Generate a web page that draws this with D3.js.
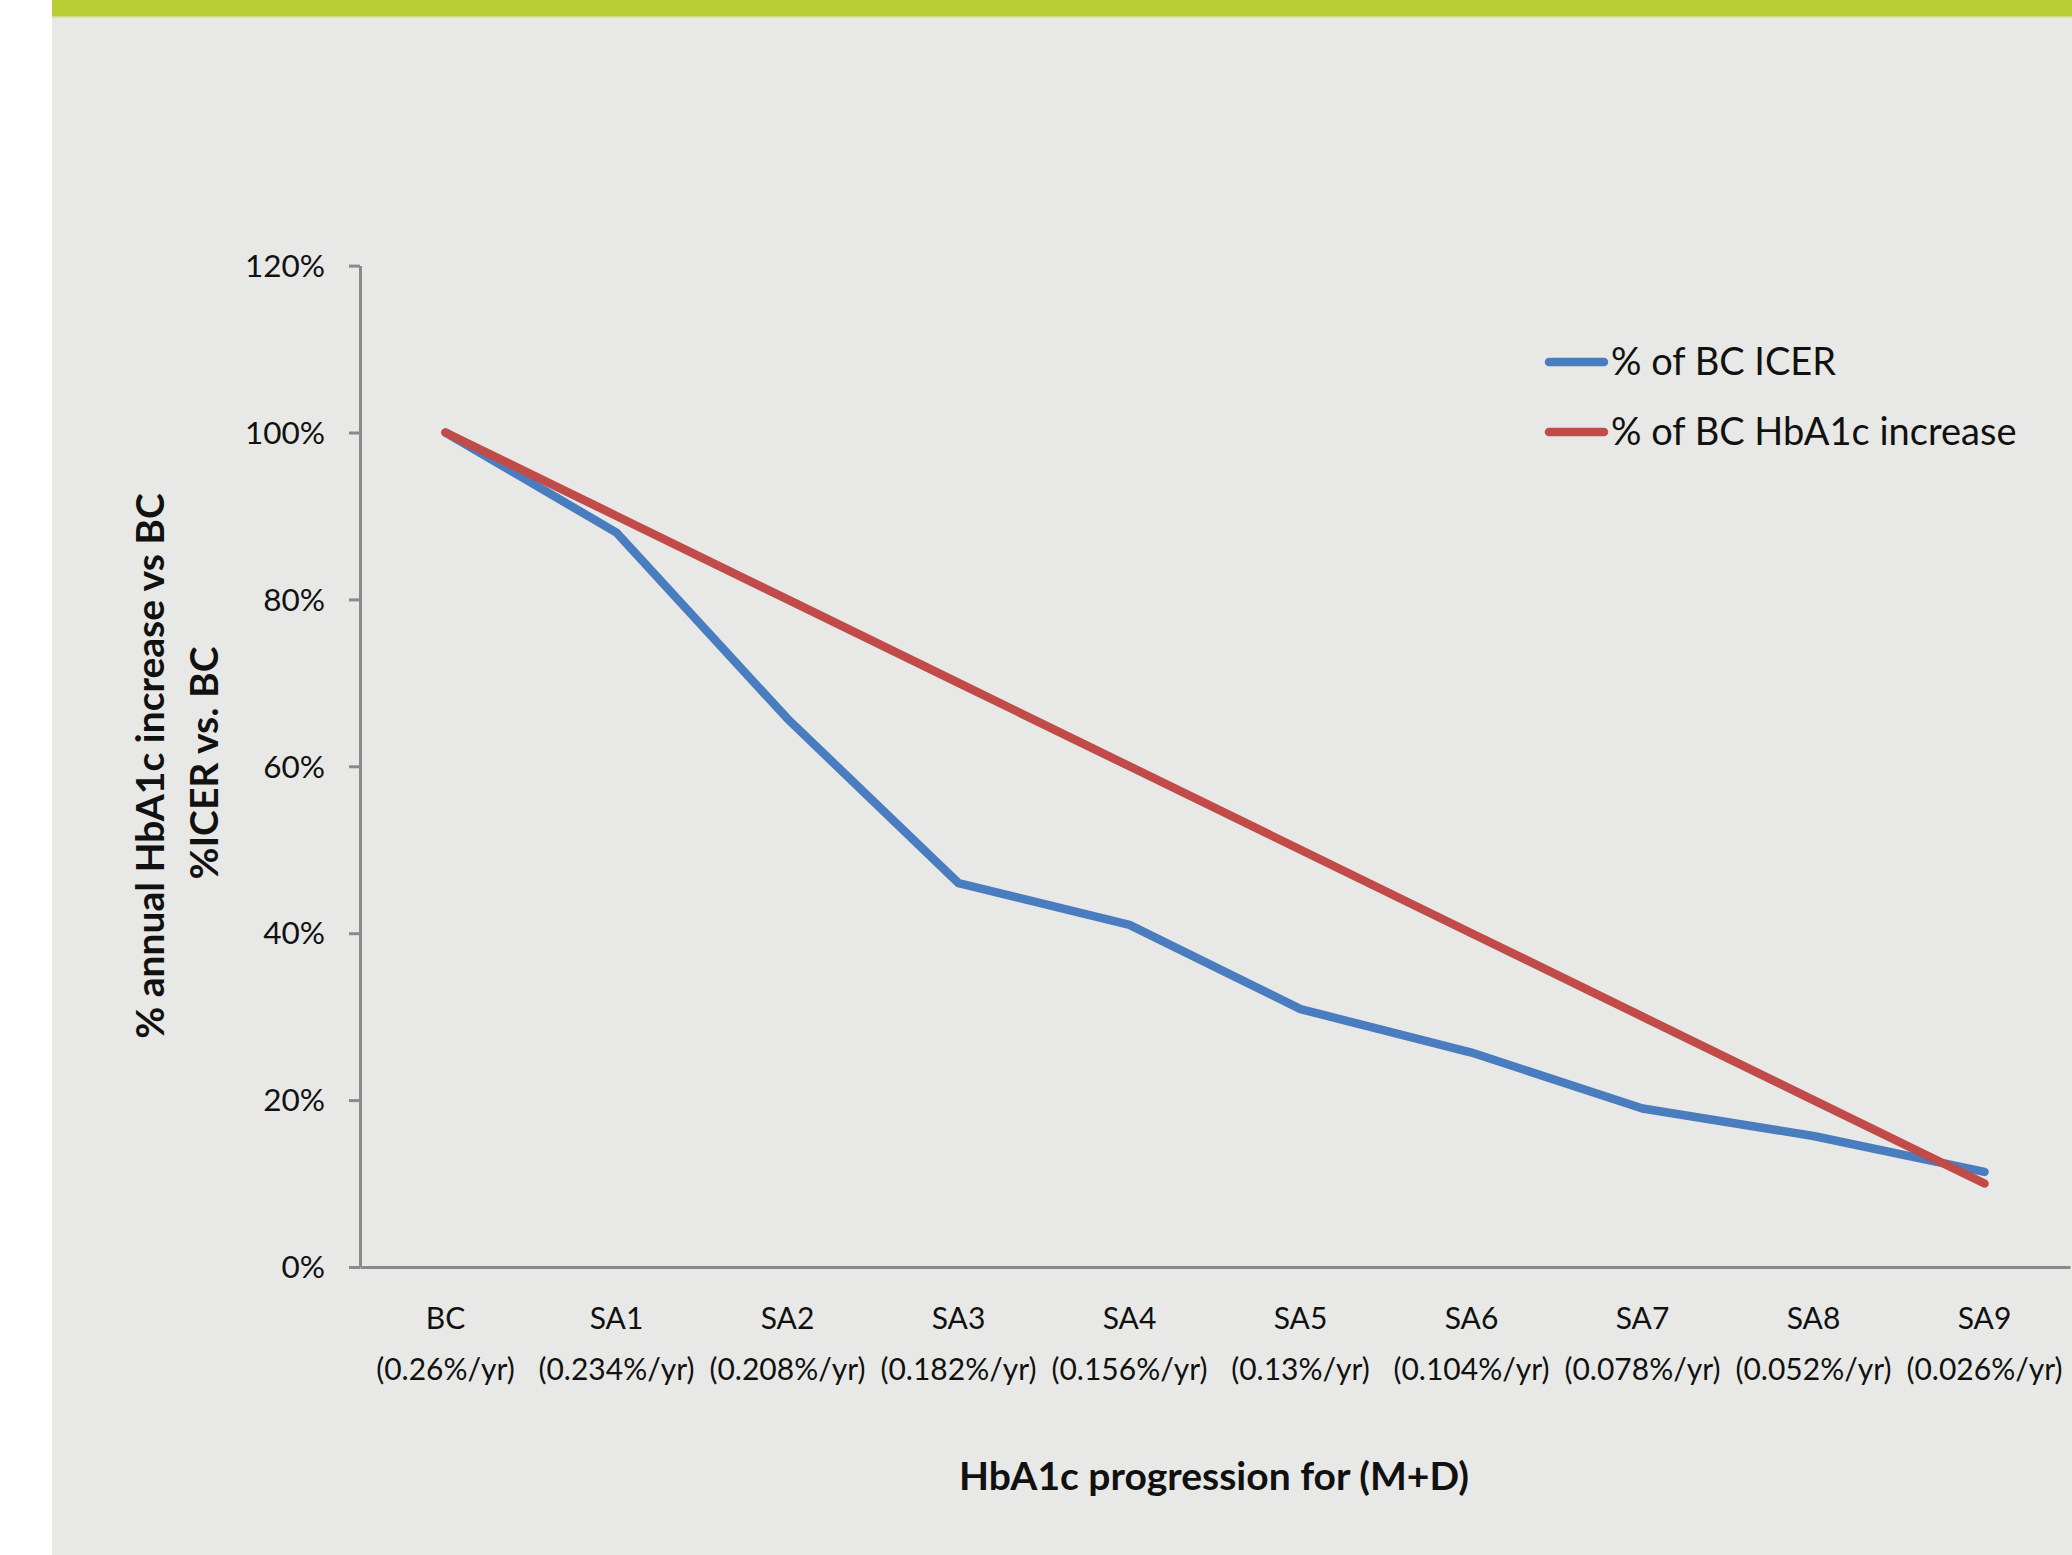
<!DOCTYPE html>
<html>
<head>
<meta charset="utf-8">
<script src="https://cdn.jsdelivr.net/npm/d3@7"></script>
<style>
  html, body { margin: 0; padding: 0; background: #ffffff; }
  svg { display: block; }
  text { font-family: Lato, "Open Sans", "Liberation Sans", sans-serif; fill: #111; }
</style>
</head>
<body>
<svg id="chart" width="2072" height="1555"></svg>
<script>
// Scenario categories along the x axis
const categories = ["BC", "SA1", "SA2", "SA3", "SA4", "SA5", "SA6", "SA7", "SA8", "SA9"];
const categoryRates = ["(0.26%/yr)", "(0.234%/yr)", "(0.208%/yr)", "(0.182%/yr)", "(0.156%/yr)",
                       "(0.13%/yr)", "(0.104%/yr)", "(0.078%/yr)", "(0.052%/yr)", "(0.026%/yr)"];

// Series values, percent of base case
const icerPct  = [100, 88, 65.7, 46, 41, 30.9, 25.7, 19, 15.7, 11.4];
const hba1cPct = [100, 90, 80, 70, 60, 50, 40, 30, 20, 10];

const seriesNames = ["% of BC ICER", "% of BC HbA1c increase"];
const yTickValues = [0, 20, 40, 60, 80, 100, 120];

const colors = { icer: "#4a7dbf", hba1c: "#c04b48" };

const W = 2072, H = 1555;
const svg = d3.select("#chart");

// Slide background: white margin, grey panel, green top band
svg.append("rect").attr("x", 0).attr("y", 0).attr("width", W).attr("height", H).attr("fill", "#ffffff");
svg.append("rect").attr("x", 52).attr("y", 0).attr("width", W - 52).attr("height", H).attr("fill", "#e8e9e6");
svg.append("rect").attr("x", 52).attr("y", 0).attr("width", W - 52).attr("height", 16).attr("fill", "#b8ce34");
svg.append("rect").attr("x", 52).attr("y", 16).attr("width", W - 52).attr("height", 1.5).attr("fill", "#cfdc7e");

const plot = { left: 360, right: 2070, top: 265.6, bottom: 1267 };

const x = d3.scalePoint().domain(categories).range([plot.left, plot.right]).padding(0.5);
const y = d3.scaleLinear().domain([0, 120]).range([plot.bottom, plot.top]);

const axisColor = "#8a8a8a";

// Y axis
const yAxis = svg.append("g")
  .attr("transform", `translate(${plot.left},0)`)
  .call(d3.axisLeft(y).tickValues(yTickValues).tickSize(11).tickSizeOuter(0).tickPadding(24)
        .tickFormat(d => d + "%"));
yAxis.select(".domain").attr("stroke", axisColor).attr("stroke-width", 3);
yAxis.selectAll(".tick line").attr("stroke", axisColor).attr("stroke-width", 3);
yAxis.selectAll(".tick text")
  .attr("font-family", "Lato, 'Open Sans', sans-serif")
  .attr("font-size", 31.5).attr("fill", "#111").attr("dy", "0.34em");

// X axis
const xAxis = svg.append("g")
  .attr("transform", `translate(0,${plot.bottom})`)
  .call(d3.axisBottom(x).tickSize(0).tickSizeOuter(0).tickFormat(""));
xAxis.select(".domain").attr("stroke", axisColor).attr("stroke-width", 3);

// Two-line category labels
const xLabels = svg.append("g").selectAll("text")
  .data(categories)
  .join("text")
  .attr("x", d => x(d))
  .attr("y", 1329)
  .attr("text-anchor", "middle")
  .attr("font-size", 30);
xLabels.append("tspan").attr("x", d => x(d)).attr("y", 1329).text(d => d);
xLabels.append("tspan").attr("x", d => x(d)).attr("y", 1380).text((d, i) => categoryRates[i]);

// Lines
const line = d3.line().x((d, i) => x(categories[i])).y(d => y(d));

svg.append("path")
  .datum(icerPct)
  .attr("d", line)
  .attr("fill", "none")
  .attr("stroke", colors.icer)
  .attr("stroke-width", 8.5)
  .attr("stroke-linecap", "round")
  .attr("stroke-linejoin", "round");

svg.append("path")
  .datum(hba1cPct)
  .attr("d", line)
  .attr("fill", "none")
  .attr("stroke", colors.hba1c)
  .attr("stroke-width", 8.5)
  .attr("stroke-linecap", "round")
  .attr("stroke-linejoin", "round");

// Legend
const legend = svg.append("g");
const legendRows = [
  { name: seriesNames[0], color: colors.icer, y: 362 },
  { name: seriesNames[1], color: colors.hba1c, y: 432 }
];
legendRows.forEach(r => {
  legend.append("line")
    .attr("x1", 1549).attr("x2", 1604)
    .attr("y1", r.y).attr("y2", r.y)
    .attr("stroke", r.color).attr("stroke-width", 8.5).attr("stroke-linecap", "round");
  legend.append("text")
    .attr("x", 1611).attr("y", r.y + 13)
    .attr("font-size", 38)
    .text(r.name);
});

// Axis titles
svg.append("text")
  .attr("transform", "translate(1214,1490)")
  .attr("text-anchor", "middle")
  .attr("font-size", 39).attr("font-weight", 700)
  .text("HbA1c progression for (M+D)");

svg.append("text")
  .attr("transform", "translate(164,766) rotate(-90)")
  .attr("text-anchor", "middle")
  .attr("font-size", 39).attr("font-weight", 700)
  .text("% annual HbA1c increase vs BC");

svg.append("text")
  .attr("transform", "translate(218,763) rotate(-90)")
  .attr("text-anchor", "middle")
  .attr("font-size", 39).attr("font-weight", 700)
  .text("%ICER vs. BC");
</script>
</body>
</html>
